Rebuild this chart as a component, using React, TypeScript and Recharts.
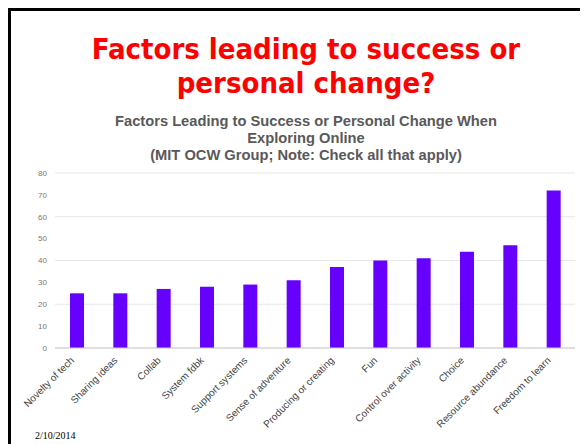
import React from "react";
import { BarChart, Bar, XAxis, YAxis, CartesianGrid } from "recharts";

const factors = [
  "Novelty of tech",
  "Sharing ideas",
  "Collab",
  "System fdbk",
  "Support systems",
  "Sense of adventure",
  "Producing or creating",
  "Fun",
  "Control over activity",
  "Choice",
  "Resource abundance",
  "Freedom to learn",
];
const counts = [25, 25, 27, 28, 29, 31, 37, 40, 41, 44, 47, 72];
const yTicks = [0, 10, 20, 30, 40, 50, 60, 70, 80];

const data = factors.map((name, i) => ({ name, value: counts[i] }));

const AngledTick = (props: any) => {
  const { x, y, payload } = props;
  return (
    <g transform={`translate(${x - 2},${y + 5})`}>
      <text
        textAnchor="end"
        transform="rotate(-45)"
        fontSize={10}
        fill="#444"
        fontFamily="Liberation Sans, Arial, sans-serif"
      >
        {payload.value}
      </text>
    </g>
  );
};

const App = () => {
  return (
    <div style={{ position: "relative", width: 580, height: 436, overflow: "hidden", background: "#fff" }}>
      <div
        style={{
          position: "absolute",
          left: 0,
          top: 0,
          width: 700,
          height: 600,
          borderTop: "3px solid #000",
          borderLeft: "3px solid #000",
        }}
      />
      <div
        style={{
          position: "absolute",
          left: 0,
          top: 24,
          width: 596,
          textAlign: "center",
          color: "#ff0000",
          fontFamily: "DejaVu Sans Condensed, DejaVu Sans, sans-serif",
          fontWeight: "bold",
          fontSize: 29,
          lineHeight: "34px",
        }}
      >
        Factors leading to success or
        <br />
        personal change?
      </div>
      <div
        style={{
          position: "absolute",
          left: 0,
          top: 105,
          width: 596,
          textAlign: "center",
          color: "#595959",
          fontFamily: "Liberation Sans, Arial, sans-serif",
          fontWeight: "bold",
          fontSize: 14.7,
          lineHeight: "17px",
        }}
      >
        Factors Leading to Success or Personal Change When
        <br />
        Exploring Online
        <br />
        (MIT OCW Group; Note: Check all that apply)
      </div>
      <div style={{ position: "absolute", left: 0, top: 0 }}>
        <BarChart
          width={580}
          height={436}
          data={data}
          margin={{ top: 165, right: 13, left: 0, bottom: 0 }}
        >
          <CartesianGrid vertical={false} stroke="#e6e6e6" />
          <XAxis
            dataKey="name"
            interval={0}
            height={96}
            tick={<AngledTick />}
            tickLine={false}
            axisLine={{ stroke: "#cccccc" }}
          />
          <YAxis
            width={47}
            domain={[0, 80]}
            ticks={yTicks}
            tickLine={false}
            axisLine={false}
            tick={{ fontSize: 8, fill: "#777", fontFamily: "Liberation Sans, Arial, sans-serif" }}
          />
          <Bar dataKey="value" fill="#6600ff" barSize={14} isAnimationActive={false} />
        </BarChart>
      </div>
      <div
        style={{
          position: "absolute",
          left: 27,
          top: 422,
          fontFamily: "Liberation Serif, Times New Roman, serif",
          fontSize: 10,
          lineHeight: "11px",
          color: "#000",
        }}
      >
        2/10/2014
      </div>
    </div>
  );
};

export default App;
